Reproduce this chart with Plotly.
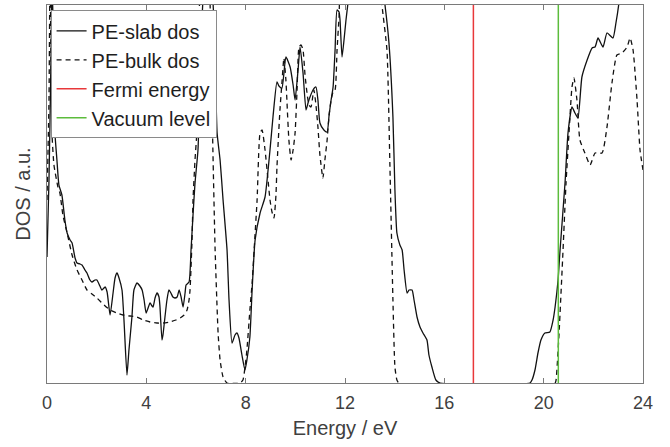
import plotly.graph_objects as go

# PE slab density of states (arbitrary units) vs energy in eV
slab_energy = [0.00, 0.08, 0.16, 0.20, 0.28, 0.32, 0.40, 0.48, 0.60, 0.72, 0.81, 0.93, 1.01, 1.13,
               1.21, 1.33, 1.41, 1.53, 1.61, 1.73, 1.81, 1.93, 2.01, 2.13, 2.21, 2.34, 2.42, 2.54,
               2.66, 2.74, 2.82, 2.90, 3.02, 3.10, 3.22, 3.30, 3.42, 3.50, 3.62, 3.74, 3.83, 3.91,
               3.99, 4.07, 4.15, 4.23, 4.27, 4.35, 4.43, 4.51, 4.55, 4.63, 4.67, 4.75, 4.83, 4.91,
               4.99, 5.07, 5.15, 5.24, 5.32, 5.40, 5.48, 5.56, 5.60, 5.72, 5.80, 5.88, 5.96, 6.08,
               6.16, 6.28, 6.40, 6.56, 6.72, 6.85, 6.97, 7.09, 7.25, 7.33, 7.45, 7.57, 7.65, 7.73,
               7.85, 7.97, 8.05, 8.17, 8.26, 8.38, 8.58, 8.78, 8.98, 9.10, 9.26, 9.34, 9.46, 9.62,
               9.79, 9.91, 9.99, 10.11, 10.19, 10.31, 10.43, 10.51, 10.59, 10.71, 10.83, 10.91,
               10.99, 11.15, 11.28, 11.36, 11.44, 11.52, 11.60, 11.68, 11.76, 11.80, 11.88, 11.96,
               12.04, 12.12, 12.28, 12.81, 13.41, 13.61, 13.77, 13.93, 14.01, 14.09, 14.21, 14.30,
               14.38, 14.50, 14.58, 14.70, 14.78, 14.90, 15.02, 15.14, 15.30, 15.38, 15.50, 15.66,
               15.83, 19.45, 19.53, 19.65, 19.77, 19.89, 20.05, 20.25, 20.38, 20.46, 20.58, 20.66,
               20.86, 20.98, 21.14, 21.26, 21.38, 21.54, 21.75, 21.95, 22.07, 22.19, 22.39, 22.55,
               22.79, 22.91, 23.03, 23.15, 24.00]
slab_dos = [1.26, 2.03, 3.23, 4.03, 3.23, 2.50, 2.23, 1.98, 1.88, 1.63, 1.50, 1.43, 1.40, 1.25,
            1.20, 1.19, 1.18, 1.13, 1.10, 1.03, 1.01, 1.03, 1.03, 0.97, 0.93, 0.96, 0.91, 0.68,
            0.90, 1.05, 1.10, 1.05, 0.93, 0.63, 0.08, 0.33, 0.66, 0.93, 1.00, 0.97, 0.93, 0.83,
            0.70, 0.75, 0.80, 0.77, 0.76, 0.85, 0.90, 0.86, 0.76, 0.43, 0.48, 0.66, 0.83, 0.93,
            0.90, 0.86, 0.85, 0.86, 0.93, 0.86, 0.76, 0.90, 0.98, 1.01, 1.33, 1.68, 2.00, 2.33,
            3.03, 3.83, 4.13, 4.13, 3.63, 2.50, 2.23, 1.83, 1.33, 0.83, 0.40, 0.48, 0.50, 0.45,
            0.28, 0.13, 0.23, 0.46, 0.93, 1.43, 1.70, 1.86, 2.33, 2.66, 3.01, 2.97, 2.95, 3.26,
            3.16, 2.98, 2.83, 3.13, 3.36, 3.10, 2.73, 2.80, 2.86, 2.93, 2.96, 2.83,
            2.60, 2.53, 2.51, 2.68, 2.83, 2.96, 3.33, 3.73, 3.71, 3.63, 3.26, 3.43,
            3.63, 3.80, 4.13, 4.50, 4.13, 3.78, 3.40, 2.66, 1.93, 1.50, 1.38, 1.33,
            1.13, 0.90, 0.93, 0.93, 0.83, 0.66, 0.56, 0.50, 0.43, 0.28, 0.16, 0.03,
            0.00, 0.00, 0.03, 0.13, 0.30, 0.43, 0.50, 0.51, 0.63, 0.76, 1.03, 1.33,
            2.00, 2.50, 2.76, 2.70, 2.65, 3.06, 3.23, 3.35, 3.36, 3.45, 3.36, 3.50,
            3.45, 3.60, 3.80, 4.13, 4.23]

# PE bulk density of states
bulk_energy = [0.00, 0.08, 0.12, 0.16, 0.20, 0.28, 0.44, 0.52, 0.64, 0.81, 1.01, 1.21, 1.41, 1.61,
               1.81, 2.01, 2.26, 2.54, 2.82, 3.06, 3.34, 3.62, 3.87, 4.15, 4.43, 4.67, 4.95, 5.19,
               5.36, 5.52, 5.64, 5.72, 5.76, 5.84, 5.88, 5.96, 6.04, 6.12, 6.20, 6.48, 6.60, 6.68,
               6.77, 6.89, 6.97, 7.09, 7.25, 7.77, 7.89, 7.97, 8.05, 8.17, 8.26, 8.34, 8.46, 8.58,
               8.66, 8.78, 8.90, 8.98, 9.06, 9.14, 9.22, 9.26, 9.38, 9.46, 9.54, 9.62, 9.66, 9.74,
               9.83, 9.91, 9.99, 10.07, 10.15, 10.23, 10.31, 10.39, 10.47, 10.55, 10.63, 10.71,
               10.75, 10.83, 10.91, 10.99, 11.11, 11.19, 11.28, 11.36, 11.44, 11.52, 11.60, 11.68,
               11.76, 11.84, 12.60, 13.41, 13.49, 13.69, 13.81, 13.93, 14.01, 14.09, 14.17, 20.46,
               20.50, 20.62, 20.78, 20.90, 21.02, 21.14, 21.22, 21.34, 21.46, 21.66, 21.87, 22.07,
               22.35, 22.55, 22.75, 22.95, 23.15, 23.36, 23.48, 23.60, 23.76, 23.88, 24.00]
bulk_dos = [1.83, 2.83, 4.03, 3.33, 2.50, 2.18, 1.96, 1.90, 1.68, 1.50, 1.28, 1.13, 1.03, 0.93,
            0.89, 0.85, 0.79, 0.73, 0.70, 0.68, 0.67, 0.66, 0.63, 0.61, 0.60, 0.60, 0.61, 0.63,
            0.65, 0.68, 0.73, 0.83, 0.93, 1.43, 1.83, 2.23, 2.53, 3.23, 4.03, 4.13, 3.33, 2.33,
            1.33, 0.50, 0.23, 0.06, 0.00, 0.00, 0.03, 0.15, 0.33, 0.73, 1.00, 1.33, 1.83, 2.50,
            2.53, 2.33, 2.03, 1.83, 1.71, 1.65, 1.88, 2.16, 2.73, 3.00, 3.25, 3.03, 2.83, 2.43,
            2.23, 2.33, 2.50, 2.93, 3.36, 3.38, 3.33, 3.08, 2.90, 2.78, 2.76, 2.88,
            2.93, 2.78, 2.56, 2.28, 2.05, 2.23, 2.43, 2.68, 2.83, 2.91, 2.93, 3.33,
            3.66, 4.03, 4.40, 4.13, 3.78, 3.33, 2.16, 0.83, 0.16, 0.03, 0.00, 0.00,
            0.03, 0.50, 1.33, 2.00, 2.50, 2.96, 3.05, 2.83, 2.43, 2.30, 2.18, 2.30,
            2.30, 2.56, 3.00, 3.28, 3.30, 3.36, 3.45, 3.33, 2.83, 2.33, 2.13]

fermi_energy = 17.17
vacuum_level = 20.59
dos_max = 3.78
energy_ticks = [0, 4, 8, 12, 16, 20, 24]

FONT = "Liberation Sans, Arial, sans-serif"
AXIS_GREY = "#7a7a7a"
TEXT_GREY = "#404040"

fig = go.Figure()
fig.add_trace(go.Scatter(
    x=slab_energy, y=slab_dos, mode="lines", name="PE-slab dos",
    line=dict(color="#111111", width=1.3, shape="spline", smoothing=0.5)))
fig.add_trace(go.Scatter(
    x=bulk_energy, y=bulk_dos, mode="lines", name="PE-bulk dos",
    line=dict(color="#111111", width=1.3, dash="5px,4px", shape="spline", smoothing=0.5)))
fig.add_trace(go.Scatter(
    x=[fermi_energy, fermi_energy], y=[0, dos_max], mode="lines", name="Fermi energy",
    line=dict(color="#e8383a", width=1.5)))
fig.add_trace(go.Scatter(
    x=[vacuum_level, vacuum_level], y=[0, dos_max], mode="lines", name="Vacuum level",
    line=dict(color="#5cbc3c", width=1.5)))

fig.update_layout(
    width=670, height=447,
    margin=dict(l=47, r=27, t=5, b=64),
    paper_bgcolor="white", plot_bgcolor="white",
    font=dict(family=FONT, size=18, color=TEXT_GREY),
    showlegend=True,
    legend=dict(
        x=0.006, y=0.986, xanchor="left", yanchor="top",
        bgcolor="white", bordercolor="#8a8a8a", borderwidth=1,
        font=dict(family=FONT, size=20, color="#1e1e1e"),
        itemwidth=30, tracegroupgap=0),
)
fig.update_xaxes(
    range=[0, 24], tickvals=energy_ticks, ticktext=[str(t) for t in energy_ticks],
    ticks="inside", ticklen=5, tickcolor=AXIS_GREY, tickwidth=1,
    showline=True, linecolor=AXIS_GREY, linewidth=1, mirror="ticks",
    showgrid=False, zeroline=False, ticklabelstandoff=3,
    tickfont=dict(size=18, color=TEXT_GREY),
    title=dict(text="Energy / eV", font=dict(size=20, color=TEXT_GREY), standoff=9))
fig.update_yaxes(
    range=[0, dos_max], showticklabels=False, ticks="",
    showline=True, linecolor=AXIS_GREY, linewidth=1, mirror=True,
    showgrid=False, zeroline=False,
    title=dict(text="DOS / a.u.", font=dict(size=20, color=TEXT_GREY), standoff=10))

fig.write_html("out.html")
